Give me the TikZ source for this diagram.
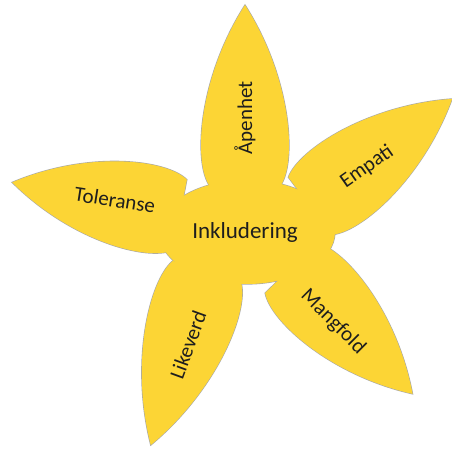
\documentclass[tikz,border=0pt]{standalone}
\usepackage{fontspec}
\setmainfont{Carlito}

\definecolor{petalyellow}{HTML}{FCD535}
\definecolor{petaledge}{HTML}{A8A8A8}
\definecolor{petalink}{HTML}{1E1E1E}

% one leaf: base mid at (#1,#2), pointing at angle #3, length #4
\newcommand{\petal}[4]{[shift={(#1,#2)},rotate=#3] (0,36) .. controls (0.14*#4,52) and (0.6*#4,46) .. (#4,0) .. controls (0.6*#4,-46) and (0.14*#4,-52) .. (0,-36) -- cycle}

\begin{document}
\begin{tikzpicture}[x=1pt,y=-1pt,
  petaltext/.style={text=petalink, font=\fontsize{21}{25}\selectfont, inner sep=0pt}]

\useasboundingbox (0,0) rectangle (452,449);

% grey rim first, yellow on top
\foreach \x/\y/\a/\l in {245/185/90/180, 310/206/37/178, 291/268/-46/175, 207/272/-108/182, 180/215/169/171}
  \draw[petaledge, line width=1.2pt] \petal{\x}{\y}{\a}{\l};
\draw[petaledge, line width=1.2pt] (247,232) ellipse [x radius=88, y radius=52];

\foreach \x/\y/\a/\l in {245/185/90/180, 310/206/37/178, 291/268/-46/175, 207/272/-108/182, 180/215/169/171}
  \fill[petalyellow] \petal{\x}{\y}{\a}{\l};
\fill[petalyellow] (247,232) ellipse [x radius=88, y radius=52];

\node[petaltext, font=\fontsize{23}{27}\selectfont] (inkl) at (245,232) {Inkludering};
\node[petaltext, rotate=90] (apen) at (245,118) {Åpenhet};
\node[petaltext, rotate=35] (empati) at (367,167) {Empati};
\node[petaltext, rotate=-45] (mangfold) at (333,322) {Mangfold};
\node[petaltext, rotate=70] (likeverd) at (188,345) {Likeverd};
\node[petaltext, rotate=-9] (toleranse) at (115,200) {Toleranse};

\end{tikzpicture}
\end{document}
